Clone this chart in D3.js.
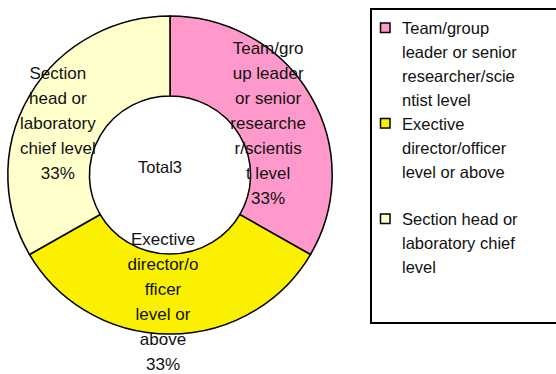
<!DOCTYPE html>
<html>
<head>
<meta charset="utf-8">
<script src="https://cdn.jsdelivr.net/npm/d3@7"></script>
<style>
  html, body { margin: 0; padding: 0; background: #fff; }
  svg { display: block; font-family: "Liberation Sans", Arial, sans-serif; }
</style>
</head>
<body>
<script>
// data
const categories = [
    "Team/group leader or senior researcher/scientist level",
    "Exective director/officer level or above",
    "Section head or laboratory chief level"
];
const values = [1, 1, 1];
const colors = ["#FF99CC", "#FBF000", "#FFFFCC"];
const totalLabel = "Total3";
// wrapped lines as they show in the picture
const sliceLines = [
    ["Team/gro", "up leader", "or senior", "researche", "r/scientis", "t level"],
    ["Exective", "director/o", "fficer", "level or", "above"],
    ["Section", "head or", "laboratory", "chief level"]
];
const legendLines = [
    ["Team/group", "leader or senior", "researcher/scie", "ntist level"],
    ["Exective", "director/officer", "level or above"],
    ["Section head or", "laboratory chief", "level"]
];

const width = 556, height = 374;
const cx = 170, cy = 175;
const rOuter = 159, rInner = 79;

const svg = d3.select("body").append("svg")
    .attr("width", width)
    .attr("height", height);

const total = d3.sum(values);

const pie = d3.pie().sort(null).value(d => d)(values);
const arc = d3.arc().innerRadius(rInner).outerRadius(rOuter);

// donut (slightly wider than tall, like the original)
const g = svg.append("g")
    .attr("transform", `translate(${cx},${cy}) scale(1.02,1)`);

g.selectAll("path")
    .data(pie)
    .join("path")
    .attr("d", arc)
    .attr("fill", (d, i) => colors[i])
    .attr("stroke", "#000")
    .attr("stroke-width", 1.5);

// centre text
svg.append("text")
    .attr("x", cx - 10)
    .attr("y", cy - 2)
    .attr("text-anchor", "middle")
    .attr("font-size", 16.5)
    .attr("fill", "#111")
    .text(totalLabel);

// slice labels
const lineH = 25;
const labels = svg.append("g")
    .attr("font-size", 17)
    .attr("fill", "#111")
    .attr("text-anchor", "middle");

pie.forEach((d, i) => {
    const c = arc.centroid(d);
    const lines = sliceLines[i].concat([d3.format(".0%")(values[i] / total)]);
    const x = cx + c[0] * 1.02 - 7;
    const y0 = cy + c[1] + 7 - (lines.length - 1) * lineH / 2;
    const t = labels.append("text");
    lines.forEach((s, j) => {
        t.append("tspan")
            .attr("x", x)
            .attr("y", y0 + j * lineH + 6)
            .text(s);
    });
});

// legend
const legend = svg.append("g");
legend.append("rect")
    .attr("x", 371).attr("y", 9)
    .attr("width", 200).attr("height", 314)
    .attr("fill", "#fff")
    .attr("stroke", "#000")
    .attr("stroke-width", 2);

const slotY = d3.scaleLinear().domain([0, 1]).range([28, 123.5]);

legendLines.forEach((lines, i) => {
    const y = slotY(i);
    legend.append("rect")
        .attr("x", 380.5).attr("y", y - 5)
        .attr("width", 9.5).attr("height", 9.5)
        .attr("fill", colors[i])
        .attr("stroke", "#000")
        .attr("stroke-width", 1.5);
    const t = legend.append("text")
        .attr("font-size", 16.5)
        .attr("fill", "#111");
    lines.forEach((s, j) => {
        t.append("tspan")
            .attr("x", 402)
            .attr("y", y + j * 24 + 6)
            .text(s);
    });
});
</script>
</body>
</html>
